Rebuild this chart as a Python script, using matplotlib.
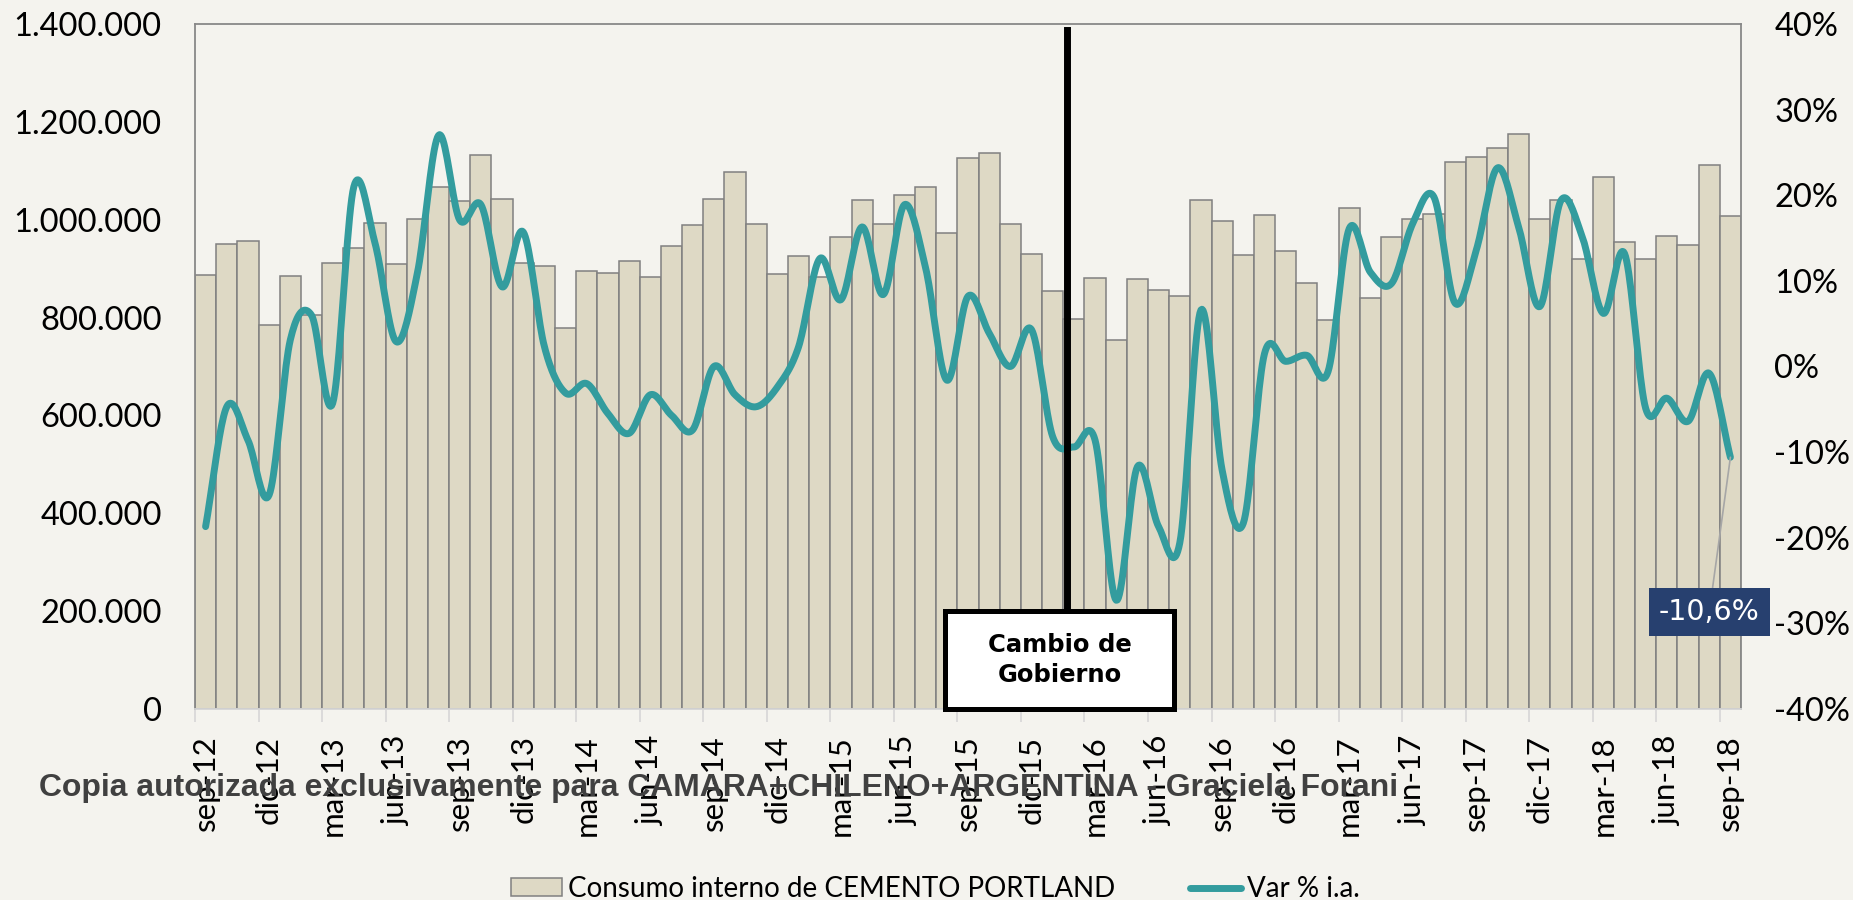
import matplotlib
matplotlib.use('Agg')
import matplotlib.pyplot as plt
import numpy as np
from matplotlib.patches import Rectangle, Patch
from matplotlib.lines import Line2D
from matplotlib.ticker import FuncFormatter

plt.rcParams['font.family'] = ['Lato', 'DejaVu Sans']

# ── Datos ────────────────────────────────────────────────────────
MESES = ['ene', 'feb', 'mar', 'abr', 'may', 'jun',
         'jul', 'ago', 'sep', 'oct', 'nov', 'dic']
meses = [f'{MESES[(8 + i) % 12]}-{12 + (8 + i) // 12}' for i in range(73)]  # sep-12 .. sep-18

# consumo interno de cemento portland (t)
consumo = [886000, 950000, 956000, 784000, 884000, 805000, 912000, 943000, 994000, 910000,
           1001000, 1067000, 1039000, 1132000, 1042000, 912000, 906000, 779000, 895000, 892000,
           916000, 882000, 946000, 990000, 1042000, 1098000, 992000, 889000, 925000, 882000,
           964000, 1041000, 991000, 1051000, 1066000, 973000, 1127000, 1136000, 991000, 929000,
           854000, 798000, 881000, 754000, 878000, 856000, 845000, 1041000, 997000, 928000,
           1009000, 936000, 871000, 796000, 1023000, 841000, 964000, 1002000, 1012000, 1118000,
           1128000, 1146000, 1176000, 1001000, 1040000, 920000, 1087000, 954000, 920000, 967000,
           948000, 1111000, 1008000]

# variación % interanual
var_ia = [-18.7, -4.7, -8.6, -15.0, 3.1, 6.0, -4.3, 21.0, 14.4, 2.9,
          10.9, 27.0, 17.1, 18.9, 9.3, 15.7, 2.3, -3.1, -2.0, -5.5,
          -7.8, -3.3, -5.7, -7.4, 0.0, -3.3, -4.7, -2.4, 2.3, 12.6,
          7.8, 16.3, 8.4, 18.9, 11.5, -1.6, 8.2, 3.9, 0.0, 4.3,
          -8.2, -9.4, -8.6, -27.3, -11.7, -18.7, -20.6, 6.6, -12.1, -18.3,
          1.5, 0.6, 1.3, -0.6, 16.1, 11.0, 9.7, 16.7, 19.8, 7.4,
          13.6, 23.2, 16.3, 7.0, 19.4, 15.2, 6.2, 13.2, -4.9, -3.7,
          -6.4, -0.8, -10.6]

# ── Colores ──────────────────────────────────────────────────────
C_BG = '#F4F3EE'
C_BAR = '#DED9C5'
C_EDGE = '#808080'
C_LINE = '#339C9E'
C_FRAME = '#888888'
C_LABEL = '#27406F'


def catmull_rom(y, n=20):
    """Curva suavizada tipo Excel que pasa por cada punto."""
    y = np.asarray(y, dtype=float)
    p = np.concatenate([[2 * y[0] - y[1]], y, [2 * y[-1] - y[-2]]])
    xs, ys = [], []
    t = np.linspace(0, 1, n, endpoint=False)
    for i in range(len(y) - 1):
        p0, p1, p2, p3 = p[i], p[i + 1], p[i + 2], p[i + 3]
        yy = 0.5 * ((2 * p1) + (-p0 + p2) * t +
                    (2 * p0 - 5 * p1 + 4 * p2 - p3) * t ** 2 +
                    (-p0 + 3 * p1 - 3 * p2 + p3) * t ** 3)
        xs.append(i + t)
        ys.append(yy)
    xs.append([len(y) - 1])
    ys.append([y[-1]])
    return np.concatenate(xs), np.concatenate(ys)


fig = plt.figure(figsize=(18.53, 9.0), dpi=100)
fig.patch.set_facecolor(C_BG)
ax = fig.add_axes([195 / 1853, 1 - 709 / 900, 1546 / 1853, 685 / 900])
ax.set_facecolor(C_BG)

x = np.arange(len(consumo))
ax.bar(x, consumo, width=1.0, color=C_BAR, edgecolor=C_EDGE, linewidth=1.1, zorder=2)
ax.set_xlim(-0.5, len(consumo) - 0.5)
ax.set_ylim(0, 1400000)
ax.set_yticks(np.arange(0, 1400001, 200000))
ax.yaxis.set_major_formatter(FuncFormatter(lambda v, p: f'{int(v):,}'.replace(',', '.')))
ax.tick_params(axis='y', length=0, pad=24, labelsize=23.5)

# eje x: etiquetas cada 3 meses, marcas entre categorías
ax.set_xticks(x[::3])
ax.set_xticklabels(meses[::3], rotation=90, fontsize=22.5)
ax.tick_params(axis='x', which='major', length=0, pad=19)
ax.set_xticks(x[::3] - 0.5, minor=True)
ax.tick_params(axis='x', which='minor', length=9, width=1.2, color='#D6D6D6')

for s in ['left', 'top', 'right']:
    ax.spines[s].set_color(C_FRAME)
    ax.spines[s].set_linewidth(1.3)
ax.spines['bottom'].set_color('#D6D6D6')
ax.spines['bottom'].set_linewidth(1.3)

# ── Eje derecho: variación % ─────────────────────────────────────
ax2 = ax.twinx()
ax2.set_ylim(-40, 40)
ax2.set_yticks(np.arange(-40, 41, 10))
ax2.yaxis.set_major_formatter(FuncFormatter(lambda v, p: f'{v:.0f}%'))
ax2.tick_params(axis='y', length=0, pad=24, labelsize=23.5)
for s in ax2.spines.values():
    s.set_visible(False)

xs, ys = catmull_rom(var_ia)
ax2.plot(xs, ys, color=C_LINE, linewidth=5, solid_capstyle='round', zorder=3)

# ── Cambio de Gobierno ───────────────────────────────────────────
x_cambio = 40.67
ax2.plot([x_cambio, x_cambio], [-28.6, 39.3], color='black', linewidth=5, zorder=5)
box = Rectangle((40.32 - 5.4, -40), 10.8, 11.4, facecolor='white', edgecolor='black',
                linewidth=3.6, zorder=6, clip_on=False)
ax2.add_patch(box)
ax2.text(40.32, -34.3, 'Cambio de\nGobierno', ha='center', va='center',
         fontsize=17.5, fontweight='bold', family='DejaVu Sans',
         linespacing=1.3, zorder=7)

# ── Etiqueta último dato ─────────────────────────────────────────
ax2.annotate('-10,6%', xy=(len(var_ia) - 1, var_ia[-1]), xytext=(71.0, -28.7),
             ha='center', va='center', fontsize=20.5, color='white', zorder=8,
             family='DejaVu Sans',
             bbox=dict(boxstyle='square,pad=0.35', facecolor=C_LABEL, edgecolor='none'),
             arrowprops=dict(arrowstyle='-', color='#A6A6A6', lw=1.2,
                             shrinkA=0, shrinkB=0))

# ── Leyenda ──────────────────────────────────────────────────────
handles = [Patch(facecolor=C_BAR, edgecolor=C_EDGE, linewidth=1.1,
                 label='Consumo interno de CEMENTO PORTLAND'),
           Line2D([], [], color=C_LINE, linewidth=5, solid_capstyle='round',
                  label='Var % i.a.')]
fig.legend(handles=handles, loc='center', bbox_to_anchor=(0.5046, 0.012), ncol=2,
           frameon=False, fontsize=20, handlelength=1.85, handleheight=0.62,
           handletextpad=0.2, columnspacing=2.7)

# ── Marca de agua ────────────────────────────────────────────────
wm = fig.text(39 / 1853, 1 - 788 / 900,
              'Copia autorizada exclusivamente para CAMARA+CHILENO+ARGENTINA - Graciela Forani',
              ha='left', va='center', fontsize=28, fontweight='bold', color='#404040',
              family=['Liberation Sans Narrow', 'Liberation Sans', 'DejaVu Sans'], zorder=10)
fig.canvas.draw()
w = wm.get_window_extent().width
wm.set_fontsize(28 * 1361 / w)

fig.savefig('out.png', dpi=100, facecolor=C_BG)
